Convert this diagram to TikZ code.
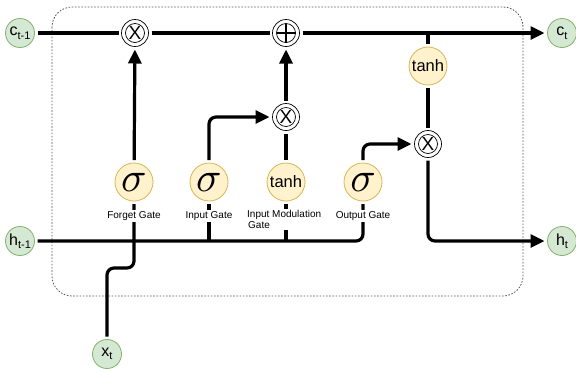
\documentclass[tikz,border=0pt]{standalone}
\usepackage{fontspec}
\setmainfont{Liberation Sans}
\usetikzlibrary{arrows.meta}
\definecolor{gfill}{HTML}{D5E8D4}
\definecolor{gdraw}{HTML}{82B366}
\definecolor{yfill}{HTML}{FFF2CC}
\definecolor{ydraw}{HTML}{D6B656}
\definecolor{boxc}{HTML}{555555}
\newcommand\mysub[1]{\raisebox{-3.5pt}{\fontsize{11}{11}\selectfont #1}}
\newcommand\bigsig{\scalebox{4.2}{$\sigma$}}
\pgfdeclarelayer{bg}
\pgfsetlayers{bg,main}
\begin{document}
\begin{tikzpicture}[x=1pt,y=-1pt,
  io/.style={circle,fill=gfill,draw=gdraw,line width=0.8pt,minimum size=29pt,inner sep=0pt,outer sep=3pt,font=\fontsize{16}{16}\selectfont},
  gate/.style={circle,fill=yfill,draw=ydraw,line width=0.8pt,minimum size=38pt,inner sep=0pt,outer sep=3pt,font=\fontsize{16.5}{16.5}\selectfont},
  sig/.style={gate,font=\normalsize},
  opx/.style={circle,draw,fill=white,line width=0.7pt,minimum size=27pt,inner sep=0pt,outer sep=3pt,
    font=\fontsize{19}{19}\selectfont,
    path picture={\draw[line width=0.7pt] (path picture bounding box.center) circle (9.5pt);}},
  opp/.style={circle,draw,fill=white,line width=0.7pt,minimum size=27pt,inner sep=0pt,outer sep=3pt,
    path picture={\draw[line width=0.7pt] (path picture bounding box.center) circle (9.5pt);
      \draw[line width=1.6pt] ([xshift=-9.5pt]path picture bounding box.center) -- ([xshift=9.5pt]path picture bounding box.center);
      \draw[line width=1.6pt] ([yshift=-9.5pt]path picture bounding box.center) -- ([yshift=9.5pt]path picture bounding box.center);}},
  lab/.style={fill=white,inner sep=1pt,font=\fontsize{10}{11.5}\selectfont},
  wire/.style={line width=3.2pt,rounded corners=7pt},
  arr/.style={wire,-{Triangle[length=14pt,width=13pt]}},
  frame/.style={draw=boxc,line width=0.8pt,dash pattern=on 1.6pt off 1.6pt,rounded corners=20pt}
]
\useasboundingbox (0,0) rectangle (576,368);

% nodes
\node[io] (ctm) at (20,33) {c\mysub{t-1}};
\node[opx] (fx) at (135,33) {X};
\node[opp] (pl) at (286,33) {};
\node[gate] (th2) at (428,66) {tanh};
\node[io] (ct) at (562,33) {c\mysub{t}};
\node[sig] (fg) at (134,182) {\bigsig};
\node[sig] (ig) at (209,182) {\bigsig};
\node[gate] (mg) at (286,182) {tanh};
\node[sig] (og) at (363,182) {\bigsig};
\node[opx] (im) at (286,117) {X};
\node[opx] (om) at (428,144) {X};
\node[io] (htm) at (20,241) {h\mysub{t-1}};
\node[io] (ht) at (562,241) {h\mysub{t}};
\node[io] (xt) at (107,354) {x\mysub{t}};

\node[lab] (lf) at (134,216) {Forget Gate};
\node[lab] (li) at (209,216) {Input Gate};
\node[lab,align=left,anchor=north west] (lm) at (246,209) {Input Modulation\\\hspace*{1pt}Gate};
\node[lab] (lo) at (363,216) {Output Gate};

\coordinate (xa) at (107,268);
\coordinate (xb) at (134,268);

\begin{pgfonlayer}{bg}
\draw[frame] (52,7) rectangle (523,296);
\draw[wire] (ctm) -- (fx);
\draw[wire] (fx) -- (pl);
\draw[arr] (pl) -- (ct);
\draw[wire] (th2.north) -- (th2.north |- pl.center);
\draw[wire] (th2) -- (om);
\draw[arr] (fg) -- (fx);
\draw[wire] (mg) -- (im);
\draw[arr] (im) -- (pl);
\draw[arr] (ig.north) |- (im);
\draw[arr] (og.north) |- (om);
\draw[arr] (om.south) |- (ht);
\draw[wire] (htm) -| (og.south);
\draw[wire] (ig.south) -- (ig.south |- htm.center);
\draw[wire] (mg.south) -- (mg.south |- htm.center);
\draw[wire] (xt.north) -- (xa) -- (xb) -- (fg.south);
\end{pgfonlayer}
\end{tikzpicture}
\end{document}
